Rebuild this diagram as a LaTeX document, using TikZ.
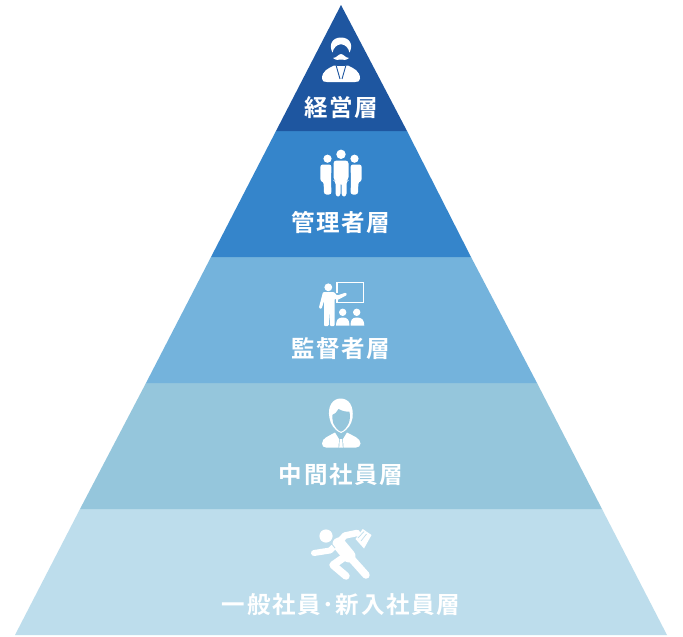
\documentclass[tikz,border=0pt]{standalone}
\usepackage{fontspec}
\newfontfamily\cjk[LetterSpace=7]{Noto Sans CJK JP Bold}
\definecolor{lvA}{HTML}{1E56A0}
\definecolor{lvB}{HTML}{3585CB}
\definecolor{lvC}{HTML}{74B3DC}
\definecolor{lvD}{HTML}{95C6DC}
\definecolor{lvE}{HTML}{BDDDEC}
\tikzset{
  lab/.style={text=white,font=\cjk\fontsize{23.5}{26}\selectfont,inner sep=0pt,anchor=center},
  ico/.style={fill=white,draw=none},
  limb/.style={draw=white,line cap=round,line join=round},
}
\begin{document}
\begin{tikzpicture}[x=1pt,y=-1pt]
\useasboundingbox (0,0) rectangle (683,637);
\fill[white] (0,0) rectangle (683,637);
% bands
\fill[lvE] (80,509) -- (602,509) -- (667,635) -- (15,635) -- cycle;
\fill[lvD] (146,383) -- (537,383) -- (602,509) -- (80,509) -- cycle;
\fill[lvC] (211,257) -- (471,257) -- (537,383) -- (146,383) -- cycle;
\fill[lvB] (276,131) -- (407,131) -- (471,257) -- (211,257) -- cycle;
\fill[lvA] (341,5) -- (407,131) -- (276,131) -- cycle;
% labels
\node[lab] (a) at (341,108) {経営層};
\node[lab] (b) at (341,222) {管理者層};
\node[lab] (c) at (341,348.5) {監督者層};
\node[lab] (d) at (341,474.5) {中間社員層};
\node[lab] (e) at (341,605) {一般社員･新入社員層};
% icon 1: executive
\fill[ico] (332.5,52.5) .. controls (328.5,45) and (332,37.5) .. (341,37.5) .. controls (350,37.5) and (353.5,45) .. (349.5,52.5)
  .. controls (348.5,48) and (345.5,44.5) .. (341,44.2) .. controls (336.5,44.5) and (333.5,48) .. (332.5,52.5) -- cycle;
\fill[ico] (333,58) .. controls (336.5,58) and (338.5,54) .. (341,54) .. controls (343.5,54) and (345.5,58) .. (349,58)
  .. controls (346,60.5) and (343.5,60) .. (341,59.5) .. controls (338.5,60) and (336,60.5) .. (333,58) -- cycle;
\fill[ico] (322,78.5) .. controls (322,71) and (328,68.5) .. (334,65.5) -- (348,65.5) .. controls (354,68.5) and (360,71) .. (360,78.5)
  .. controls (360,81.5) and (358,82) .. (355,82) -- (327,82) .. controls (324,82) and (322,81.5) .. (322,78.5) -- cycle;
\draw[lvA,line width=.9pt] (336,65) -- (340,79) (346,65) -- (342,79);
\draw[lvA,line width=1pt] (337,65) -- (345,65);
% icon 2: three people
\fill[ico] (341,154.3) circle (4.7);
\fill[ico] (327.5,158.7) circle (4.1);
\fill[ico] (354.5,158.7) circle (4.1);
\fill[ico,rounded corners=3pt] (333.5,180) -- (333.5,160.5) -- (348.5,160.5) -- (348.5,180) -- (346.5,181) -- (346.5,196.5) -- (341.5,196.5) -- (341.5,182) -- (340.5,182) -- (340.5,196.5) -- (335.5,196.5) -- (335.5,181) -- cycle;
\fill[ico,rounded corners=2.5pt] (320.3,181.5) -- (320.3,164.5) -- (331.5,164.5) -- (331,181) -- (331.5,194.5) -- (324,194.5) -- (323.6,181.5) -- cycle;
\fill[ico,rounded corners=2.5pt] (361.7,181.5) -- (361.7,164.5) -- (350.5,164.5) -- (351,181) -- (350.5,194.5) -- (358,194.5) -- (358.4,181.5) -- cycle;
% icon 3: teacher
\draw[white,line width=1.4pt] (337,293) -- (337,282.5) -- (363.5,282.5) -- (363.5,302.5) -- (337,302.5) -- (337,299);
\fill[ico] (328.3,287.3) circle (3.9);
\fill[ico,rounded corners=1pt] (323,292) -- (334,292) -- (337,295.5) -- (346,292.5) -- (347,295) -- (337.5,300) -- (334.5,298.5)
  -- (334.5,326) -- (330,326) -- (329.3,310) -- (328.7,326) -- (324,326) -- (324,301) -- (321.5,309) -- (318.8,308) -- cycle;
\fill[ico] (342.7,312.3) circle (3.7);
\fill[ico] (356.7,312.3) circle (3.7);
\fill[ico] (336,325.7) .. controls (336,320) and (338,317.5) .. (342.7,317.5) .. controls (347.5,317.5) and (349.5,320) .. (349.5,325.7) -- cycle;
\fill[ico] (350.5,325.7) .. controls (350.5,320) and (352,317.5) .. (356.9,317.5) .. controls (362,317.5) and (364.3,320) .. (364.3,325.7) -- cycle;
% icon 4: employee
\fill[ico] (329.5,418) .. controls (327,406) and (333,398.5) .. (340.5,398.5) .. controls (349,398.5) and (354,406) .. (352.5,418)
  .. controls (351.5,424) and (348,430) .. (341,433) .. controls (334,430) and (330.5,424) .. (329.5,418) -- cycle;
\fill[lvD] (332.3,415) .. controls (335,414) and (337,412) .. (338.5,409) .. controls (342,411) and (346,412) .. (349.3,411.5)
  .. controls (350.5,415) and (350,420) .. (348.8,423) .. controls (347,427) and (344,431) .. (341,431.7) .. controls (338,431) and (335,427) .. (333.2,423) .. controls (332.5,420) and (332.3,418) .. (332.3,415) -- cycle;
\fill[ico] (322,443.5) .. controls (322,438) and (329,436) .. (335,432.5) -- (339,439) -- (338.5,447.5) -- (326,447.5) .. controls (323.5,447.5) and (322,446) .. (322,443.5) -- cycle;
\fill[ico] (360.5,443.5) .. controls (360.5,438) and (353,436) .. (347,432.5) -- (343,439) -- (343.5,447.5) -- (356,447.5) .. controls (358.5,447.5) and (360.5,446) .. (360.5,443.5) -- cycle;
\fill[ico] (339.7,439) -- (342.3,439) -- (342.8,447.5) -- (339.2,447.5) -- cycle;
% icon 5: runner
\fill[ico] (326,536) circle (6.6);
\draw[limb,line width=6pt] (314,553) -- (330,550.5) -- (338,543);
\draw[limb,line width=6.5pt] (338,543) -- (345,535.5) -- (357,533);
\draw[limb,line width=13pt] (339,544) -- (349,556);
\draw[limb,line width=7.5pt] (349,556) -- (366,575);
\draw[limb,line width=7.5pt] (343,558) -- (333,565) -- (346,576);
\draw[lvE,line width=.8pt] (331,543) -- (335,548);
\fill[ico] (355.5,539) -- (362.7,529) -- (371.5,535) -- (364,548.5) -- cycle;
\draw[lvE,line width=.7pt] (358,538) -- (364,531.5) (361,541) -- (366.5,534);
\end{tikzpicture}
\end{document}
